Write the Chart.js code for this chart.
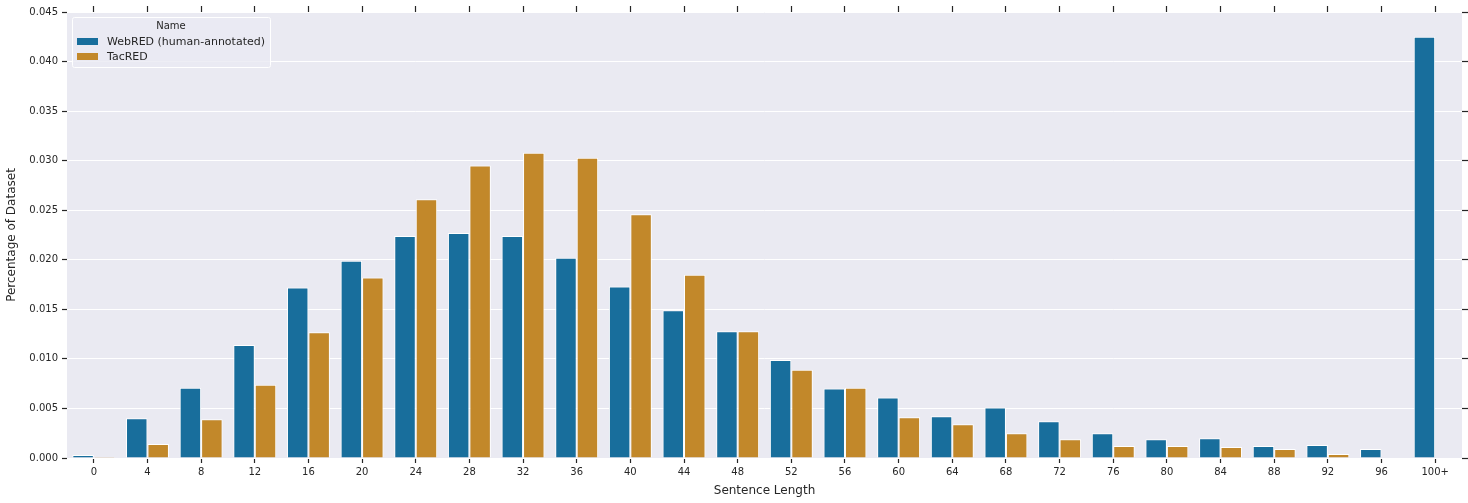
<!DOCTYPE html>
<html>
<head>
<meta charset="utf-8">
<script src="https://cdn.jsdelivr.net/npm/chart.js@4"></script>
<style>
  html, body { margin: 0; padding: 0; background: #fff; }
  #wrap { width: 1468px; height: 503px; }
</style>
</head>
<body>
<div id="wrap"><canvas id="chart"></canvas></div>
<script>
const categories = ["0", "4", "8", "12", "16", "20", "24", "28", "32", "36", "40", "44", "48",
  "52", "56", "60", "64", "68", "72", "76", "80", "84", "88", "92", "96", "100+"];
const webred = [0.0003, 0.0040, 0.0071, 0.0114, 0.0172, 0.0199, 0.0224, 0.0227, 0.0224, 0.0202,
  0.0173, 0.0149, 0.0128, 0.0099, 0.0070, 0.0061, 0.0042, 0.0051, 0.0037, 0.0025, 0.0019,
  0.0020, 0.0012, 0.0013, 0.0009, 0.0425];
const tacred = [0.0001, 0.0014, 0.0039, 0.0074, 0.0127, 0.0182, 0.0261, 0.0295, 0.0308, 0.0303,
  0.0246, 0.0185, 0.0128, 0.0089, 0.0071, 0.0041, 0.0034, 0.0025, 0.0019, 0.0012, 0.0012,
  0.0011, 0.0009, 0.0004, 0, 0];
const seriesNames = ["WebRED (human-annotated)", "TacRED"];
const seriesColors = ["#186e9c", "#c2882a"];

const textColor = "#262626";
const fontFamily = "'DejaVu Sans', sans-serif";

// grey plot background like seaborn darkgrid
const plotBg = {
  id: "plotBg",
  beforeDraw(chart) {
    const { ctx, chartArea: a } = chart;
    ctx.save();
    ctx.fillStyle = "#eaeaf2";
    ctx.fillRect(a.left, a.top, a.right - a.left, a.bottom - a.top);
    ctx.restore();
  }
};

// legend box drawn inside the plot, top left
const boxLegend = {
  id: "boxLegend",
  afterDraw(chart) {
    const { ctx, chartArea: a } = chart;
    const x = a.left + 5, y = a.top + 5, w = 198, h = 50;
    ctx.save();
    ctx.fillStyle = "rgba(234,234,242,0.8)";
    ctx.strokeStyle = "#ffffff";
    ctx.lineWidth = 1;
    ctx.beginPath();
    ctx.roundRect(x + 0.5, y + 0.5, w, h, 2);
    ctx.fill();
    ctx.stroke();
    ctx.fillStyle = textColor;
    ctx.font = "10px " + fontFamily;
    ctx.textBaseline = "middle";
    ctx.textAlign = "center";
    ctx.fillText("Name", x + w / 2, y + 9);
    ctx.textAlign = "left";
    ctx.font = "11px " + fontFamily;
    chart.data.datasets.forEach((ds, i) => {
      const ry = y + 21 + i * 15;
      ctx.fillStyle = ds.backgroundColor;
      ctx.fillRect(x + 5, ry, 21, 7);
      ctx.fillStyle = textColor;
      ctx.fillText(ds.label, x + 35, ry + 4);
    });
    ctx.restore();
  }
};

new Chart(document.getElementById("chart"), {
  type: "bar",
  data: {
    labels: categories,
    datasets: [
      {
        label: seriesNames[0],
        data: webred,
        backgroundColor: seriesColors[0],
        borderColor: "#ffffff",
        borderWidth: 1,
      },
      {
        label: seriesNames[1],
        data: tacred,
        backgroundColor: seriesColors[1],
        borderColor: "#ffffff",
        borderWidth: 1,
      },
    ],
  },
  options: {
    responsive: true,
    maintainAspectRatio: false,
    animation: false,
    datasets: { bar: { categoryPercentage: 0.8, barPercentage: 1.0 } },
    layout: { padding: 0 },
    plugins: {
      legend: { display: false },
      tooltip: { enabled: false },
    },
    scales: {
      x: {
        position: "bottom",
        offset: true,
        grid: { offset: false, drawOnChartArea: false, tickColor: textColor, tickLength: 5, tickWidth: 1.2 },
        border: { display: false },
        ticks: { color: textColor, font: { family: fontFamily, size: 10 }, padding: 3, maxRotation: 0, autoSkip: false },
        title: { display: true, text: "Sentence Length", color: textColor, font: { family: fontFamily, size: 12 }, padding: { top: 0, bottom: 5 } },
        afterFit(s) { s.height = 45; },
      },
      xTop: {
        type: "category",
        position: "top",
        offset: true,
        grid: { offset: false, drawOnChartArea: false, tickColor: textColor, tickLength: 6, tickWidth: 1.2 },
        border: { display: false },
        ticks: { display: false },
        afterFit(s) { s.height = 12; },
      },
      y: {
        position: "left",
        min: 0,
        max: 0.045,
        grid: { color: "#ffffff", lineWidth: 1, tickColor: textColor, tickLength: 5, tickWidth: 1.2 },
        border: { display: false },
        ticks: { stepSize: 0.005, color: textColor, font: { family: fontFamily, size: 10 }, padding: 4, callback: (v) => v.toFixed(3) },
        title: { display: true, text: "Percentage of Dataset", color: textColor, font: { family: fontFamily, size: 12 }, padding: { top: 5, bottom: 0 } },
        afterFit(s) { s.width = 67; },
      },
      yRight: {
        position: "right",
        min: 0,
        max: 0.045,
        grid: { drawOnChartArea: false, tickColor: textColor, tickLength: 6, tickWidth: 1.2 },
        border: { display: false },
        ticks: { stepSize: 0.005, display: false },
        afterFit(s) { s.width = 6; },
      },
    },
  },
  plugins: [plotBg, boxLegend],
});
</script>
</body>
</html>
